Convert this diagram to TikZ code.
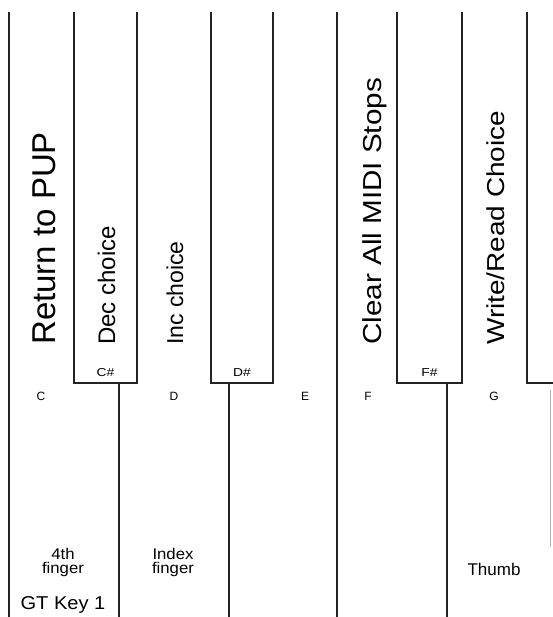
\documentclass[tikz,border=0pt]{standalone}
\usepackage{fontspec}
\setmainfont{Liberation Sans}
\definecolor{kline}{RGB}{35,35,35}
\tikzset{
  keyline/.style={draw=kline, line width=1.1pt},
  keylabel/.style={inner sep=0pt, anchor=base, font=\fontsize{12}{14}\selectfont},
  fnlabel/.style={inner sep=0pt, anchor=base west, rotate=90}
}
\begin{document}
\begin{tikzpicture}[x=1pt,y=-1pt]
\def\kt{12}
\def\kb{383}
\def\yb{617}
\useasboundingbox (0,0) rectangle (552,617);

% white key edges
\foreach \x in {9,337}{
  \draw[keyline] (\x,\kt) -- (\x,\yb);
}
% black keys and the white key edge below each
\foreach \l/\r/\s in {74/137/119, 211/273/229, 397/462/447}{
  \draw[keyline] (\l,\kt) -- (\l,\kb) -- (\r,\kb) -- (\r,\kt);
  \draw[keyline] (\s,\kb) -- (\s,\yb);
}
\draw[keyline] (527,\kt) -- (527,\kb) -- (553,\kb);
\draw[draw=black!30, line width=0.8pt] (550.5,390) -- (550.5,547);

% functions
\node[fnlabel, font=\fontsize{33}{38}\selectfont] (pup) at (55,345) {Return to PUP};
\node[fnlabel, font=\fontsize{24}{28}\selectfont] (dec) at (115,345) {Dec choice};
\node[fnlabel, font=\fontsize{23}{27}\selectfont] (inc) at (183,345) {Inc choice};
\node[fnlabel, font=\fontsize{26}{30}\selectfont, xscale=1.14] (clr) at (381,345) {Clear All MIDI Stops};
\node[fnlabel, font=\fontsize{24.5}{28}\selectfont, xscale=1.14] (wr) at (504,345) {Write/Read Choice};

% note names
\foreach \x/\n/\t in {105.5/cs/C\#, 242/ds/D\#, 429.5/fs/F\#}{
  \node[keylabel, font=\fontsize{11.5}{13}\selectfont, xscale=1.2] (\n) at (\x,376) {\t};
}
\foreach \x/\n in {41/C, 174/D, 305/E, 368/F, 494/G}{
  \node[keylabel] (n\n) at (\x,400) {\n};
}

% fingers
\foreach \x/\n/\t in {63/fourth/4th, 173/index/Index}{
  \node[keylabel, font=\fontsize{15.5}{17}\selectfont, xscale=1.08] (\n) at (\x,559) {\t};
  \node[keylabel, font=\fontsize{15.5}{17}\selectfont, xscale=1.08] (\n f) at (\x,573.5) {finger};
}
\node[keylabel, font=\fontsize{17}{20}\selectfont] (thumb) at (494,575) {Thumb};
\node[keylabel, font=\fontsize{18.6}{22}\selectfont, xscale=1.08] (gtkey) at (63,609) {GT Key 1};
\end{tikzpicture}
\end{document}
